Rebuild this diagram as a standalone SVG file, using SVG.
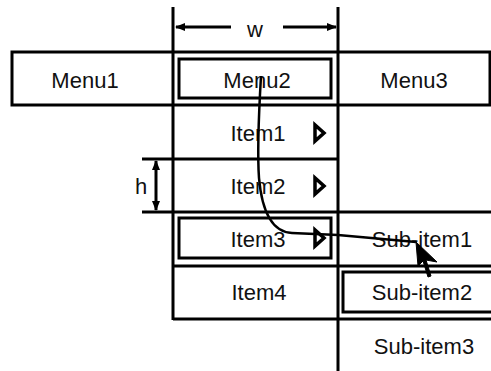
<svg xmlns="http://www.w3.org/2000/svg" width="491" height="371" viewBox="0 0 491 371">
  <style>
    .ln { stroke: #000; stroke-width: 3; fill: none; }
    .box { stroke: #000; stroke-width: 3; fill: none; }
    .lbl { font-family: "Liberation Sans", Arial, sans-serif; font-size: 22px; fill: #111; text-anchor: middle; }
    .tri { stroke: #000; stroke-width: 3.5; fill: #fff; stroke-linejoin: miter; }
    .dim { stroke: #000; stroke-width: 3; fill: none; }
  </style>
  <defs>
    <marker id="ah" viewBox="0 0 10 8" refX="9" refY="4" markerWidth="10" markerHeight="8" markerUnits="userSpaceOnUse" orient="auto-start-reverse">
      <path d="M0,0 L10,4 L0,8 Z" fill="#000"/>
    </marker>
  </defs>
  <rect width="491" height="371" fill="#fff"/>

  <!-- grid lines of the menu structure -->
  <g id="grid">
    <line class="ln" x1="173" y1="7" x2="173" y2="320"/>
    <line class="ln" x1="338" y1="7" x2="338" y2="371"/>
    <line class="ln" x1="142" y1="159" x2="338" y2="159"/>
    <line class="ln" x1="142" y1="212" x2="491" y2="212"/>
    <line class="ln" x1="173" y1="266" x2="491" y2="266"/>
    <line class="ln" x1="173" y1="319" x2="491" y2="319"/>
  </g>

  <!-- menu bar -->
  <g id="menubar">
    <rect class="box" x="12" y="52" width="478" height="53"/>
  </g>
  <g id="menu1"><text class="lbl" x="85" y="88">Menu1</text></g>
  <g id="menu2">
    <rect class="box" x="179" y="59" width="152" height="39"/>
    <text class="lbl" x="257" y="88">Menu2</text>
  </g>
  <g id="menu3"><text class="lbl" x="414" y="88">Menu3</text></g>

  <!-- items -->
  <g id="item1">
    <text class="lbl" x="258" y="141">Item1</text>
    <polygon class="tri" points="315,125 315,141 324,133"/>
  </g>
  <g id="item2">
    <text class="lbl" x="258" y="194">Item2</text>
    <polygon class="tri" points="315,178 315,194 324,186"/>
  </g>
  <g id="item3">
    <rect class="box" x="179" y="218" width="152" height="40"/>
    <text class="lbl" x="258" y="247">Item3</text>
    <polygon class="tri" points="315,230 315,246 324,238"/>
  </g>
  <g id="item4"><text class="lbl" x="259" y="300">Item4</text></g>

  <!-- sub-items -->
  <g id="subitem1"><text class="lbl" x="422" y="247">Sub-item1</text></g>
  <g id="subitem2">
    <rect class="box" x="343" y="272" width="160" height="40"/>
    <text class="lbl" x="422" y="300">Sub-item2</text>
  </g>
  <g id="subitem3"><text class="lbl" x="424" y="354">Sub-item3</text></g>

  <!-- dimensions -->
  <g id="dim-w">
    <line class="dim" x1="231" y1="27" x2="176" y2="27" marker-end="url(#ah)"/>
    <line class="dim" x1="283" y1="27" x2="336" y2="27" marker-end="url(#ah)"/>
    <text class="lbl" x="255" y="37">w</text>
  </g>
  <g id="dim-h">
    <line class="dim" x1="156" y1="161" x2="156" y2="210" marker-start="url(#ah)" marker-end="url(#ah)"/>
    <text class="lbl" x="141" y="194">h</text>
  </g>

  <!-- pointer path and cursor -->
  <g id="connectors">
    <path d="M261,76 C259,110 257,150 259,178 C262,212 272,232 292,233 L338,235 L416,242" fill="none" stroke="#000" stroke-width="2.5"/>
  </g>
  <g id="cursor">
    <polygon points="416,242 418,266 423,261 428,277 431,276 426,260 437,262" fill="#000" stroke="#000" stroke-width="1" stroke-linejoin="round"/>
  </g>
</svg>
